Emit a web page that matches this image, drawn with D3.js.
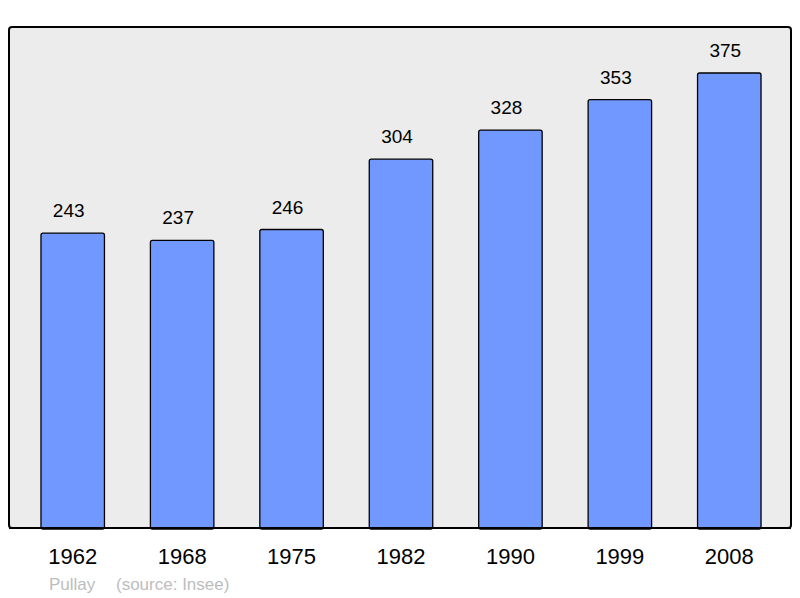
<!DOCTYPE html>
<html>
<head>
<meta charset="utf-8">
<script src="https://cdn.jsdelivr.net/npm/d3@7"></script>
<style>
  body { margin: 0; background: #fff; }
  text { font-family: "Liberation Sans", Arial, sans-serif; }
</style>
</head>
<body>
<svg id="chart" width="800" height="598"></svg>
<script>
let years = ["1962", "1968", "1975", "1982", "1990", "1999", "2008"];
let population = [243, 237, 246, 304, 328, 353, 375];

let svg = d3.select("#chart");

// frame
svg.append("rect")
    .attr("x", 9).attr("y", 27)
    .attr("width", 782).attr("height", 501)
    .attr("rx", 3)
    .style("fill", "#ececec")
    .style("stroke", "#000")
    .style("stroke-width", 2);

let x = d3.scaleBand()
    .domain(years)
    .range([18, 784])
    .paddingInner(0.42)
    .paddingOuter(0.21);

let y = d3.scaleLinear()
    .domain([0, 375])
    .range([528, 73]);

let data = years.map((yr, i) => ({year: yr, value: population[i]}));

svg.append("g").selectAll("rect")
    .data(data)
    .enter().append("rect")
    .attr("x", d => x(d.year))
    .attr("y", d => y(d.value))
    .attr("width", x.bandwidth())
    .attr("height", d => y(0) - y(d.value) + 1)
    .attr("rx", 2)
    .style("fill", "#7098ff")
    .style("stroke", "#000")
    .style("stroke-width", 1.3);

// redraw bottom border over bars
svg.append("line")
    .attr("x1", 9).attr("x2", 791)
    .attr("y1", 528).attr("y2", 528)
    .style("stroke", "#000").style("stroke-width", 2);

// value labels sit a little left of the bar centre in the original
svg.append("g").selectAll("text")
    .data(data)
    .enter().append("text")
    .attr("x", d => x(d.year) + x.bandwidth() / 2 - 4)
    .attr("y", d => y(d.value) - 16)
    .style("text-anchor", "middle")
    .style("font-size", "19px")
    .text(d => d.value);

let xAxis = svg.append("g")
    .attr("transform", "translate(0, 528)")
    .call(d3.axisBottom(x).tickSize(0).tickPadding(20));
xAxis.select(".domain").remove();
xAxis.selectAll("text")
    .style("font-size", "22px")
    .style("font-family", "Liberation Sans, Arial, sans-serif")
    .style("fill", "#000");

svg.append("text")
    .attr("x", 49).attr("y", 590)
    .style("font-size", "17px")
    .style("fill", "#bdbdbd")
    .text("Pullay");
svg.append("text")
    .attr("x", 116).attr("y", 590)
    .style("font-size", "17px")
    .style("fill", "#bdbdbd")
    .text("(source: Insee)");
</script>
</body>
</html>
